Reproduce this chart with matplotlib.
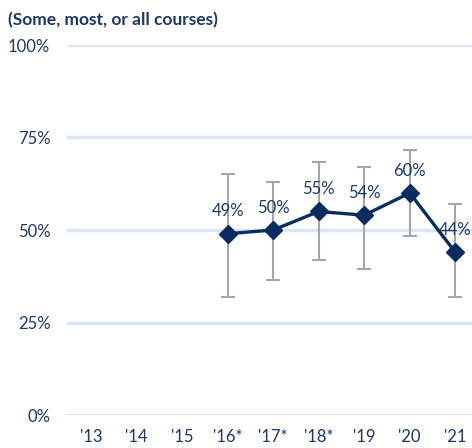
import matplotlib.pyplot as plt
import numpy as np

years = ["'13", "'14", "'15", "'16*", "'17*", "'18*", "'19", "'20", "'21"]
# data only for '16 onwards
vals = [49, 50, 55, 54, 60, 44]
lows = [32, 36.5, 42, 39.5, 48.5, 32]
highs = [65, 63, 68.5, 67, 71.5, 57]
first = 3

navy = '#0b2c5f'
txt = '#1f3864'
plt.rcParams['font.family'] = ['Lato', 'DejaVu Sans']

fig = plt.figure(figsize=(4.72, 4.48), dpi=100)
ax = fig.add_axes([67/472, 33/448, 411/472, 370/448])

x = np.arange(first, first + len(vals))
v = np.array(vals) / 100
lo = v - np.array(lows) / 100
hi = np.array(highs) / 100 - v

for g in [0.25, 0.5, 0.75, 1.0]:
    ax.axhline(g, color='#dae5f5', lw=2.5, zorder=0)
ax.axhline(0, color='#d9d9d9', lw=1.8, zorder=0)

ax.errorbar(x, v, yerr=[lo, hi], fmt='none', ecolor='#a6a6a6', elinewidth=1.5,
            capsize=5, capthick=1.5, zorder=2)
ax.plot(x, v, color=navy, lw=2.4, marker='D', markersize=9, zorder=3)

for xi, vi, val in zip(x, v, vals):
    ax.annotate('%d%%' % val, (xi, vi), xytext=(0, 16), textcoords='offset points',
                ha='center', va='center', fontsize=12, color=txt)

ax.set_xlim(-0.53, 8.5)
ax.set_ylim(0, 1)
ax.set_xticks(range(len(years)))
ax.set_xticklabels(years)
ax.set_yticks([0, 0.25, 0.5, 0.75, 1.0])
ax.set_yticklabels(['0%', '25%', '50%', '75%', '100%'])
ax.tick_params(length=0, labelsize=12, colors=txt)
ax.tick_params(axis='x', pad=10)
ax.tick_params(axis='y', pad=12)
for s in ax.spines.values():
    s.set_visible(False)

fig.text(8/472, 1 - 20/448, '(Some, most, or all courses)', fontsize=12.5,
         fontweight='bold', color=txt, va='center')

fig.savefig('out.png', dpi=100)
